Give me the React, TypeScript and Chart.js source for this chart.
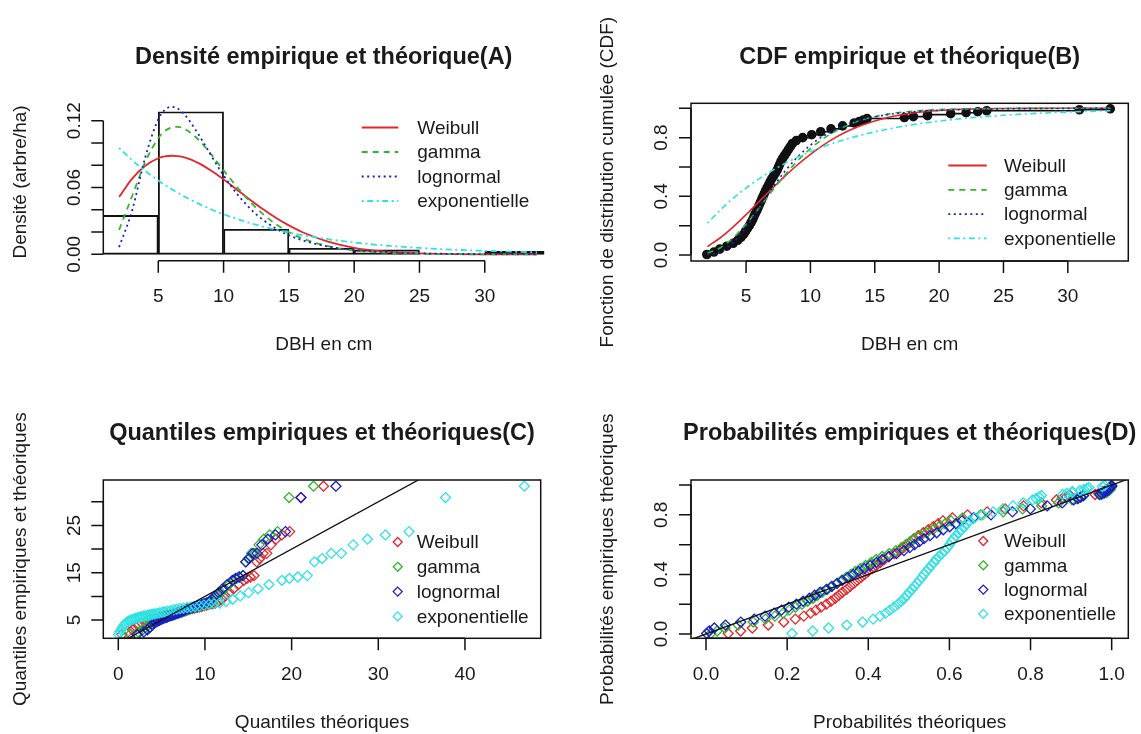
import React, { useEffect, useRef } from "react";
import { Chart, registerables } from "chart.js";

Chart.register(...registerables);

// ---------------- Data ----------------
const SERIES = ["Weibull", "gamma", "lognormal", "exponentielle"];

// Panel A : histogram (bins of width 5) + fitted densities
const HIST_MIDS = [2.5, 7.5, 12.5, 17.5, 22.5, 27.5, 32.5];
const HIST_DENSITY = [0.035, 0.128, 0.0225, 0.0054, 0.004, 0, 0.0027];
const DENS_X = [2, 3, 4, 5, 5.5, 6, 6.5, 7, 8, 9, 10, 11, 12, 13, 14, 15, 16, 18, 20, 22, 25, 28, 31, 34];
const DENS_WEIBULL = [0.0515, 0.068, 0.0796, 0.0863, 0.0879, 0.0885, 0.0882, 0.087, 0.0824, 0.0755, 0.0673, 0.0583, 0.0493, 0.0407, 0.0329, 0.026, 0.0201, 0.0114, 0.0059, 0.0029, 0.0008, 0.0002, 0.00004, 0];
const DENS_GAMMA = [0.022, 0.0524, 0.0828, 0.1043, 0.1107, 0.1139, 0.1145, 0.1127, 0.1038, 0.0904, 0.0754, 0.0608, 0.0475, 0.0363, 0.0271, 0.0199, 0.0144, 0.0073, 0.0035, 0.0016, 0.0005, 0.00014, 0.00004, 0.00001];
const DENS_LNORM = [0.0065, 0.0395, 0.0871, 0.1213, 0.1297, 0.1325, 0.1308, 0.1257, 0.1092, 0.0896, 0.0709, 0.0547, 0.0415, 0.0311, 0.0232, 0.0172, 0.0128, 0.007, 0.0039, 0.0022, 0.0009, 0.0004, 0.0002, 0.0001];
const DENS_EXP = [0.0956, 0.0846, 0.0749, 0.0663, 0.0624, 0.0587, 0.0552, 0.0519, 0.046, 0.0407, 0.036, 0.0319, 0.0282, 0.025, 0.0221, 0.0196, 0.0173, 0.0136, 0.0106, 0.0083, 0.0058, 0.004, 0.0028, 0.0019];

// Panel B : theoretical CDFs
const CDF_X = [2, 3, 4, 5, 6, 7, 8, 9, 10, 11, 12, 13, 14, 16, 18, 20, 22, 25, 28, 31, 33.3];
const CDF_WEIBULL = [0.0574, 0.1175, 0.1918, 0.2751, 0.3629, 0.4509, 0.5358, 0.615, 0.6864, 0.7493, 0.8031, 0.8481, 0.8848, 0.9372, 0.9679, 0.9847, 0.9932, 0.9982, 0.9996, 0.9999, 1.0];
const CDF_GAMMA = [0.0129, 0.0492, 0.1163, 0.2101, 0.3202, 0.4345, 0.5438, 0.6419, 0.725, 0.7933, 0.8471, 0.8887, 0.9201, 0.9601, 0.9808, 0.991, 0.9959, 0.9988, 0.9996, 0.9999, 1.0];
const CDF_LNORM = [0.0018, 0.0224, 0.0858, 0.1918, 0.3206, 0.4508, 0.5687, 0.6682, 0.7483, 0.8108, 0.8586, 0.8947, 0.9218, 0.9567, 0.9759, 0.9864, 0.9923, 0.9966, 0.9984, 0.9993, 0.9996];
const CDF_EXP = [0.2164, 0.3064, 0.386, 0.4565, 0.5189, 0.5741, 0.623, 0.6663, 0.7047, 0.7385, 0.7685, 0.7952, 0.8187, 0.8579, 0.8886, 0.9127, 0.9316, 0.9526, 0.9671, 0.9772, 0.9828];

// Empirical probabilities and sorted DBH (shared by B, C, D)
const PROBS = [0.0033, 0.02, 0.04, 0.06, 0.08, 0.1, 0.12, 0.14, 0.16, 0.18, 0.2, 0.22, 0.24, 0.26, 0.28, 0.3, 0.32, 0.34, 0.36, 0.38, 0.4, 0.42, 0.44, 0.46, 0.48, 0.5, 0.52, 0.54, 0.56, 0.58, 0.6, 0.62, 0.64, 0.66, 0.68, 0.7, 0.72, 0.74, 0.76, 0.78, 0.8, 0.82, 0.84, 0.86, 0.88, 0.9, 0.91, 0.92, 0.93, 0.9367, 0.9433, 0.95, 0.9567, 0.9633, 0.97, 0.9767, 0.9833, 0.99, 0.9967];
const EMP_DBH = [1.95, 2.5, 2.95, 3.5, 4.0, 4.35, 4.6, 4.8, 4.95, 5.1, 5.25, 5.38, 5.5, 5.6, 5.7, 5.82, 5.92, 6.02, 6.12, 6.22, 6.32, 6.42, 6.53, 6.64, 6.76, 6.87, 7.0, 7.15, 7.3, 7.42, 7.52, 7.62, 7.72, 7.85, 8.0, 8.15, 8.3, 8.45, 8.6, 8.9, 9.4, 10.1, 10.8, 11.6, 12.5, 13.4, 13.8, 14.1, 14.4, 17.3, 18.0, 19.1, 19.1, 20.9, 22.1, 23.0, 23.7, 30.9, 33.3];

// Panel C : theoretical quantiles
const Q_WEIBULL = [0.42, 1.12, 1.64, 2.05, 2.41, 2.74, 3.04, 3.32, 3.59, 3.85, 4.1, 4.35, 4.59, 4.82, 5.06, 5.29, 5.52, 5.74, 5.97, 6.19, 6.42, 6.65, 6.88, 7.1, 7.34, 7.57, 7.81, 8.05, 8.3, 8.55, 8.8, 9.07, 9.34, 9.62, 9.9, 10.2, 10.52, 10.84, 11.19, 11.55, 11.94, 12.35, 12.81, 13.3, 13.86, 14.49, 14.84, 15.23, 15.66, 15.98, 16.32, 16.7, 17.13, 17.61, 18.19, 18.88, 19.77, 21.07, 23.68];
const Q_GAMMA = [1.35, 2.27, 2.81, 3.2, 3.51, 3.79, 4.04, 4.28, 4.5, 4.7, 4.9, 5.09, 5.28, 5.47, 5.65, 5.82, 6.0, 6.18, 6.35, 6.52, 6.7, 6.87, 7.05, 7.23, 7.41, 7.59, 7.78, 7.96, 8.16, 8.35, 8.56, 8.76, 8.98, 9.2, 9.44, 9.68, 9.93, 10.2, 10.48, 10.79, 11.11, 11.46, 11.85, 12.28, 12.77, 13.32, 13.65, 13.99, 14.39, 14.68, 15.0, 15.36, 15.76, 16.23, 16.79, 17.47, 18.37, 19.71, 22.53];
const Q_LNORM = [2.18, 2.94, 3.37, 3.68, 3.93, 4.16, 4.36, 4.55, 4.73, 4.9, 5.07, 5.23, 5.39, 5.54, 5.69, 5.84, 5.99, 6.15, 6.3, 6.45, 6.6, 6.76, 6.91, 7.07, 7.24, 7.4, 7.57, 7.74, 7.92, 8.1, 8.29, 8.49, 8.69, 8.91, 9.14, 9.37, 9.62, 9.89, 10.17, 10.47, 10.81, 11.17, 11.58, 12.03, 12.56, 13.17, 13.53, 13.93, 14.38, 14.72, 15.09, 15.52, 16.0, 16.56, 17.26, 18.13, 19.29, 21.08, 25.11];
const Q_EXP = [0.027, 0.166, 0.335, 0.507, 0.684, 0.864, 1.048, 1.237, 1.43, 1.627, 1.83, 2.037, 2.25, 2.469, 2.694, 2.925, 3.163, 3.407, 3.66, 3.92, 4.189, 4.467, 4.754, 5.053, 5.362, 5.684, 6.019, 6.367, 6.732, 7.114, 7.514, 7.934, 8.378, 8.846, 9.343, 9.873, 10.439, 11.046, 11.702, 12.416, 13.197, 14.061, 15.027, 16.122, 17.386, 18.881, 19.745, 20.711, 21.806, 22.63, 23.53, 24.57, 25.74, 27.1, 28.75, 30.82, 33.55, 37.76, 46.85];
const REF_C = [0, 50];

// Panel D : theoretical probabilities at the observed DBH
const PP_WEIBULL = [0.0548, 0.0854, 0.1141, 0.1532, 0.1918, 0.2201, 0.2411, 0.2579, 0.2708, 0.2838, 0.2968, 0.3081, 0.3187, 0.3275, 0.3363, 0.3469, 0.3557, 0.3646, 0.3734, 0.3823, 0.3912, 0.4, 0.4098, 0.4194, 0.4299, 0.4395, 0.4509, 0.4639, 0.4769, 0.4872, 0.4957, 0.5042, 0.5126, 0.5235, 0.5358, 0.5481, 0.5603, 0.5723, 0.5841, 0.6074, 0.6445, 0.6931, 0.7374, 0.7826, 0.8267, 0.8637, 0.8781, 0.8881, 0.8974, 0.9591, 0.9679, 0.9785, 0.9785, 0.9893, 0.9935, 0.9956, 0.9967, 0.9999, 1.0];
const PP_GAMMA = [0.0119, 0.0274, 0.0467, 0.0791, 0.1163, 0.1465, 0.1698, 0.19, 0.2049, 0.2206, 0.2368, 0.2507, 0.2639, 0.275, 0.2862, 0.2998, 0.3111, 0.3224, 0.334, 0.3454, 0.357, 0.3684, 0.3809, 0.3934, 0.4071, 0.4195, 0.4345, 0.4514, 0.468, 0.4815, 0.4924, 0.5033, 0.5142, 0.5282, 0.5438, 0.5595, 0.5747, 0.5896, 0.6042, 0.6325, 0.6769, 0.7326, 0.7807, 0.8273, 0.8691, 0.9023, 0.9146, 0.923, 0.9306, 0.9752, 0.9808, 0.9874, 0.9874, 0.9937, 0.9961, 0.9972, 0.9979, 0.9999, 1.0];
const PP_LNORM = [0.0015, 0.0079, 0.0205, 0.0481, 0.0858, 0.1188, 0.1455, 0.168, 0.1858, 0.204, 0.2228, 0.2393, 0.2548, 0.2679, 0.281, 0.2967, 0.3099, 0.3232, 0.3365, 0.3498, 0.3629, 0.3761, 0.3905, 0.4048, 0.4203, 0.4344, 0.4508, 0.4695, 0.488, 0.5024, 0.5143, 0.526, 0.5374, 0.5522, 0.5687, 0.5849, 0.6007, 0.616, 0.6308, 0.6592, 0.7025, 0.7553, 0.7995, 0.8411, 0.878, 0.9065, 0.917, 0.924, 0.9305, 0.9704, 0.9759, 0.9824, 0.9824, 0.9895, 0.9925, 0.9941, 0.9952, 0.9993, 0.9996];
const PP_EXP = [0.212, 0.263, 0.302, 0.347, 0.386, 0.412, 0.429, 0.443, 0.453, 0.463, 0.473, 0.481, 0.489, 0.495, 0.501, 0.508, 0.514, 0.52, 0.526, 0.532, 0.537, 0.543, 0.549, 0.555, 0.562, 0.567, 0.574, 0.582, 0.589, 0.595, 0.6, 0.605, 0.61, 0.616, 0.623, 0.63, 0.637, 0.643, 0.65, 0.662, 0.682, 0.708, 0.732, 0.757, 0.782, 0.805, 0.814, 0.821, 0.827, 0.879, 0.889, 0.903, 0.903, 0.922, 0.932, 0.939, 0.944, 0.977, 0.983];
const REF_D = [-0.1, 1.1];

// Tick values / labels
const A_X_TICKS = [5, 10, 15, 20, 25, 30];
const A_X_LABELS = ["5", "10", "15", "20", "25", "30"];
const A_Y_TICKS = [0, 0.02, 0.04, 0.06, 0.08, 0.1, 0.12];
const A_Y_LABELS = ["0.00", "", "", "0.06", "", "", "0.12"];
const B_X_TICKS = [5, 10, 15, 20, 25, 30];
const B_X_LABELS = ["5", "10", "15", "20", "25", "30"];
const PROB_TICKS = [0, 0.2, 0.4, 0.6, 0.8, 1.0];
const PROB_Y_LABELS = ["0.0", "", "0.4", "", "0.8", ""];
const C_X_TICKS = [0, 10, 20, 30, 40];
const C_X_LABELS = ["0", "10", "20", "30", "40"];
const C_Y_TICKS = [5, 10, 15, 20, 25, 30];
const C_Y_LABELS = ["5", "", "15", "", "25", ""];
const D_X_LABELS = ["0.0", "0.2", "0.4", "0.6", "0.8", "1.0"];

// ---------------- Styles ----------------
const FONT = '"Liberation Sans", Arial, Helvetica, sans-serif';
const TXT = "#1a1a1a";
const COLORS = ["#E3262B", "#2EB82E", "#1C1CC8", "#2CE3E3"];
const DASHES = [[], [6, 5], [2, 3.5], [2, 3.5, 6, 3.5]];
const TICK = 12;

type LegendSpec = { kind: "line" | "point"; x0: number; x1: number; tx: number; y0: number; dy: number };
type PanelSpec = {
  title: string;
  xTitle: string;
  yTitle: string;
  xTicks: number[];
  xLabels: string[];
  yTicks: number[];
  yLabels: string[];
  box: boolean;
  legend: LegendSpec;
};

const pts = (xs: number[], ys: number[]) => xs.map((x, i) => ({ x, y: ys[i] }));

function rPlotPlugin(spec: PanelSpec) {
  return {
    id: "rPlot",
    afterDraw(chart: any) {
      const { ctx, chartArea: a, scales } = chart;
      const xs = scales.x;
      const ys = scales.y;
      ctx.save();
      ctx.setLineDash([]);
      ctx.strokeStyle = "#111";
      ctx.lineWidth = 1.5;
      if (spec.box) ctx.strokeRect(a.left, a.top, a.right - a.left, a.bottom - a.top);

      // x axis
      const xp = spec.xTicks.map((v) => xs.getPixelForValue(v));
      ctx.beginPath();
      ctx.moveTo(xp[0], a.bottom);
      ctx.lineTo(xp[xp.length - 1], a.bottom);
      xp.forEach((p) => {
        ctx.moveTo(p, a.bottom);
        ctx.lineTo(p, a.bottom + TICK);
      });
      ctx.stroke();
      ctx.fillStyle = TXT;
      ctx.font = `19px ${FONT}`;
      ctx.textAlign = "center";
      ctx.textBaseline = "middle";
      xp.forEach((p, i) => ctx.fillText(spec.xLabels[i], p, a.bottom + 36));

      // y axis
      const yp = spec.yTicks.map((v) => ys.getPixelForValue(v));
      ctx.beginPath();
      ctx.moveTo(a.left, yp[0]);
      ctx.lineTo(a.left, yp[yp.length - 1]);
      yp.forEach((p) => {
        ctx.moveTo(a.left, p);
        ctx.lineTo(a.left - TICK, p);
      });
      ctx.stroke();
      yp.forEach((p, i) => {
        if (!spec.yLabels[i]) return;
        ctx.save();
        ctx.translate(a.left - 29, p);
        ctx.rotate(-Math.PI / 2);
        ctx.fillText(spec.yLabels[i], 0, 0);
        ctx.restore();
      });

      // axis titles
      const cx = (a.left + a.right) / 2;
      const cy = (a.top + a.bottom) / 2;
      ctx.fillText(spec.xTitle, cx, a.bottom + 84);
      ctx.save();
      ctx.translate(a.left - 83, cy);
      ctx.rotate(-Math.PI / 2);
      ctx.fillText(spec.yTitle, 0, 0);
      ctx.restore();

      // main title
      ctx.font = `bold 23.5px ${FONT}`;
      ctx.fillText(spec.title, cx, a.top - 46);

      // legend
      const lg = spec.legend;
      ctx.font = `19px ${FONT}`;
      ctx.textAlign = "left";
      SERIES.forEach((name, i) => {
        const y = lg.y0 + i * lg.dy;
        ctx.strokeStyle = COLORS[i];
        if (lg.kind === "line") {
          ctx.lineWidth = 1.8;
          ctx.setLineDash(DASHES[i]);
          ctx.beginPath();
          ctx.moveTo(lg.x0, y);
          ctx.lineTo(lg.x1, y);
          ctx.stroke();
          ctx.setLineDash([]);
        } else {
          const r = 4.5;
          ctx.lineWidth = 1.3;
          ctx.beginPath();
          ctx.moveTo(lg.x0, y - r);
          ctx.lineTo(lg.x0 + r, y);
          ctx.lineTo(lg.x0, y + r);
          ctx.lineTo(lg.x0 - r, y);
          ctx.closePath();
          ctx.stroke();
        }
        ctx.fillStyle = TXT;
        ctx.fillText(name, lg.tx, y + 1);
      });
      ctx.restore();
    },
  };
}

function baseOptions(padding: any, xr: number[], yr: number[], xTickValues?: number[]) {
  const xScale: any = { type: "linear" as const, display: false, min: xr[0], max: xr[1], offset: false };
  if (xTickValues) {
    // keep the internal tick list on the bin grid so bars get the full bin width
    xScale.afterBuildTicks = (scale: any) => {
      scale.ticks = xTickValues.map((v) => ({ value: v }));
    };
  }
  return {
    responsive: false,
    maintainAspectRatio: false,
    animation: false as const,
    events: [] as any[],
    layout: { padding },
    plugins: { legend: { display: false }, tooltip: { enabled: false }, title: { display: false } },
    scales: {
      x: xScale,
      y: { type: "linear" as const, display: false, min: yr[0], max: yr[1], offset: false },
    },
  };
}

function configA() {
  const curves = [DENS_WEIBULL, DENS_GAMMA, DENS_LNORM, DENS_EXP];
  return {
    type: "scatter" as const,
    data: {
      datasets: [
        {
          type: "bar" as const,
          label: "hist",
          data: pts(HIST_MIDS, HIST_DENSITY),
          backgroundColor: "rgba(0,0,0,0)",
          borderColor: "#111",
          borderWidth: 1.2,
          borderSkipped: false,
          barPercentage: 1,
          categoryPercentage: 1,
          clip: 0,
          order: 10,
        },
        ...curves.map((c, i) => ({
          type: "line" as const,
          label: SERIES[i],
          data: pts(DENS_X, c),
          borderColor: COLORS[i],
          borderDash: DASHES[i],
          borderWidth: 1.8,
          pointRadius: 0,
          fill: false,
          cubicInterpolationMode: "monotone" as const,
          order: 4 - i,
        })),
      ],
    },
    options: baseOptions({ left: 103.3, top: 103.2, right: 25.8, bottom: 106.3 }, [0.79, 34.55], [-0.0057, 0.1357], A_X_TICKS),
    plugins: [
      rPlotPlugin({
        title: "Densité empirique et théorique(A)",
        xTitle: "DBH en cm",
        yTitle: "Densité (arbre/ha)",
        xTicks: A_X_TICKS,
        xLabels: A_X_LABELS,
        yTicks: A_Y_TICKS,
        yLabels: A_Y_LABELS,
        box: false,
        legend: { kind: "line", x0: 361.7, x1: 398.3, tx: 417.3, y0: 127.5, dy: 24.5 },
      }),
    ],
  };
}

function configB() {
  const curves = [CDF_WEIBULL, CDF_GAMMA, CDF_LNORM, CDF_EXP];
  return {
    type: "scatter" as const,
    data: {
      datasets: [
        {
          type: "line" as const,
          label: "empirique",
          data: pts(EMP_DBH, PROBS),
          stepped: true,
          borderColor: "#111",
          borderWidth: 1.6,
          pointRadius: 4,
          pointBackgroundColor: "#111",
          pointBorderColor: "#111",
          fill: false,
          order: 10,
        },
        ...curves.map((c, i) => ({
          type: "line" as const,
          label: SERIES[i],
          data: pts(CDF_X, c),
          borderColor: COLORS[i],
          borderDash: DASHES[i],
          borderWidth: 1.6,
          pointRadius: 0,
          fill: false,
          cubicInterpolationMode: "monotone" as const,
          order: 4 - i,
        })),
      ],
    },
    options: baseOptions({ left: 121, top: 103.3, right: 12.7, bottom: 106 }, [0.72, 34.7], [-0.041, 1.034]),
    plugins: [
      rPlotPlugin({
        title: "CDF empirique et théorique(B)",
        xTitle: "DBH en cm",
        yTitle: "Fonction de distribution cumulée (CDF)",
        xTicks: B_X_TICKS,
        xLabels: B_X_LABELS,
        yTicks: PROB_TICKS,
        yLabels: PROB_Y_LABELS,
        box: true,
        legend: { kind: "line", x0: 378.3, x1: 416.7, tx: 434, y0: 165.5, dy: 24.3 },
      }),
    ],
  };
}

function diamondSet(i: number, data: { x: number; y: number }[]) {
  return {
    type: "scatter" as const,
    label: SERIES[i],
    data,
    pointStyle: "rectRot" as const,
    pointRadius: 5,
    pointBorderWidth: 1.3,
    pointBorderColor: COLORS[i],
    pointBackgroundColor: "rgba(0,0,0,0)",
    borderColor: COLORS[i],
    backgroundColor: "rgba(0,0,0,0)",
    showLine: false,
    order: 4 - i,
  };
}

function configC() {
  const qs = [Q_WEIBULL, Q_GAMMA, Q_LNORM, Q_EXP];
  return {
    type: "scatter" as const,
    data: {
      datasets: [
        ...qs.map((q, i) => diamondSet(i, pts(q, EMP_DBH))),
        {
          type: "line" as const,
          label: "y = x",
          data: pts(REF_C, REF_C),
          borderColor: "#111",
          borderWidth: 1.3,
          pointRadius: 0,
          fill: false,
          clip: 0,
          order: 0,
        },
      ],
    },
    options: baseOptions({ left: 103.3, top: 113, right: 29.3, bottom: 95.7 }, [-1.73, 48.74], [1.14, 34.61]),
    plugins: [
      rPlotPlugin({
        title: "Quantiles empiriques et théoriques(C)",
        xTitle: "Quantiles théoriques",
        yTitle: "Quantiles empiriques et théoriques",
        xTicks: C_X_TICKS,
        xLabels: C_X_LABELS,
        yTicks: C_Y_TICKS,
        yLabels: C_Y_LABELS,
        box: true,
        legend: { kind: "point", x0: 397.7, x1: 397.7, tx: 416.7, y0: 175, dy: 24.8 },
      }),
    ],
  };
}

function configD() {
  const pp = [PP_WEIBULL, PP_GAMMA, PP_LNORM, PP_EXP];
  return {
    type: "scatter" as const,
    data: {
      datasets: [
        ...pp.map((p, i) => diamondSet(i, pts(p, PROBS))),
        {
          type: "line" as const,
          label: "y = x",
          data: pts(REF_D, REF_D),
          borderColor: "#111",
          borderWidth: 1.3,
          pointRadius: 0,
          fill: false,
          clip: 0,
          order: 0,
        },
      ],
    },
    options: baseOptions({ left: 121, top: 113, right: 12.7, bottom: 95.7 }, [-0.037, 1.041], [-0.029, 1.034]),
    plugins: [
      rPlotPlugin({
        title: "Probabilités empiriques et théoriques(D)",
        xTitle: "Probabilités théoriques",
        yTitle: "Probabilités empiriques théoriques",
        xTicks: PROB_TICKS,
        xLabels: D_X_LABELS,
        yTicks: PROB_TICKS,
        yLabels: PROB_Y_LABELS,
        box: true,
        legend: { kind: "point", x0: 413.3, x1: 413.3, tx: 434, y0: 174, dy: 24.3 },
      }),
    ],
  };
}

function Panel(props: { left: number; top: number; width: number; height: number; make: () => any }) {
  const ref = useRef<HTMLCanvasElement | null>(null);
  useEffect(() => {
    if (!ref.current) return;
    const chart = new Chart(ref.current, props.make());
    return () => chart.destroy();
  }, []);
  return (
    <canvas
      ref={ref}
      width={props.width}
      height={props.height}
      style={{ position: "absolute", left: props.left, top: props.top, width: props.width, height: props.height }}
    />
  );
}

export default function App() {
  return (
    <div style={{ position: "absolute", left: 0, top: 0, width: 1141, height: 734, background: "#ffffff", overflow: "hidden" }}>
      <Panel left={0} top={0} width={570} height={367} make={configA} />
      <Panel left={570} top={0} width={571} height={367} make={configB} />
      <Panel left={0} top={367} width={570} height={367} make={configC} />
      <Panel left={570} top={367} width={571} height={367} make={configD} />
    </div>
  );
}
